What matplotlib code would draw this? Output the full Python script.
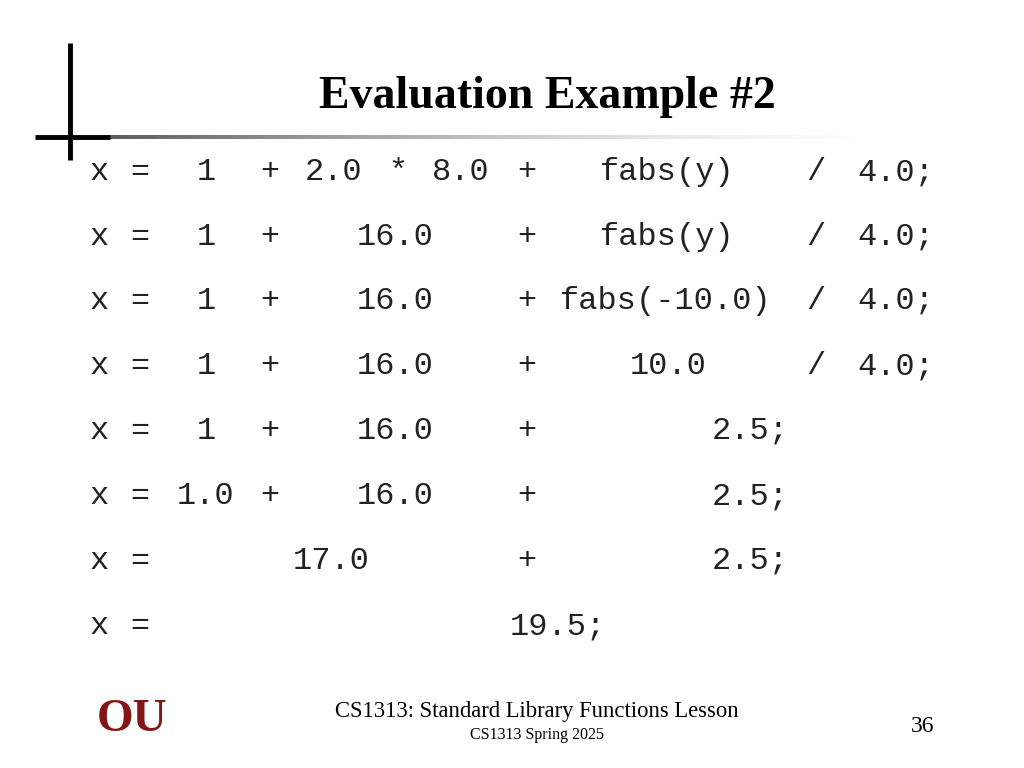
import matplotlib
matplotlib.use("Agg")
import matplotlib.pyplot as plt
import numpy as np

title = "Evaluation Example #2"
rows = [
    [("x",90),("=",130),("1",197),("+",260),("2.0",305),("*",388),("8.0",432),("+",517),("fabs(y)",600),("/",806),("4.0;",857)],
    [("x",90),("=",130),("1",197),("+",260),("16.0",357),("+",517),("fabs(y)",600),("/",806),("4.0;",857)],
    [("x",90),("=",130),("1",197),("+",260),("16.0",357),("+",517),("fabs(-10.0)",560),("/",806),("4.0;",857)],
    [("x",90),("=",130),("1",197),("+",260),("16.0",357),("+",517),("10.0",630),("/",806),("4.0;",857)],
    [("x",90),("=",130),("1",197),("+",260),("16.0",357),("+",517),("2.5;",712)],
    [("x",90),("=",130),("1.0",177),("+",260),("16.0",357),("+",517),("2.5;",712)],
    [("x",90),("=",130),("17.0",293),("+",517),("2.5;",712)],
    [("x",90),("=",130),("19.5;",510)],
]
row_y = [172, 237, 301, 366, 431, 496, 561, 626]
footer1 = "CS1313: Standard Library Functions Lesson"
footer2 = "CS1313 Spring 2025"
page = "36"

fig = plt.figure(figsize=(10.24, 7.68), dpi=100)
ax = fig.add_axes([0, 0, 1, 1])
ax.set_xlim(0, 1024); ax.set_ylim(768, 0); ax.axis("off")

ax.plot([70, 70], [43, 160], color="black", lw=3.5, solid_capstyle="butt")
ax.plot([35, 110], [137, 137], color="black", lw=3.5, solid_capstyle="butt")
n = 256
grad = np.zeros((1, n, 4))
grad[..., :3] = 0.25
grad[..., 3] = np.linspace(0.9, 0, n) ** 1.5
ax.imshow(grad, extent=(110, 880, 139, 135), aspect="auto", interpolation="bilinear")

ax.text(547, 97, title, family="Liberation Serif", weight="bold", fontsize=33,
        ha="center", va="center")

for y, toks in zip(row_y, rows):
    for t, x in toks:
        ax.text(x, y, t, family="Liberation Mono", fontsize=23, ha="left", va="center",
                color="#222222")

ax.text(537, 711, footer1, family="Liberation Serif", fontsize=16.3, ha="center", va="center")
ax.text(537, 735, footer2, family="Liberation Serif", fontsize=11.5, ha="center", va="center")
ax.text(923, 726, page, family="Liberation Serif", fontsize=17, ha="center", va="center")
ax.text(132, 720, "OU", family="Liberation Serif", weight="bold", fontsize=34,
        color="#841617", ha="center", va="center")

fig.savefig("out.png", dpi=100)
